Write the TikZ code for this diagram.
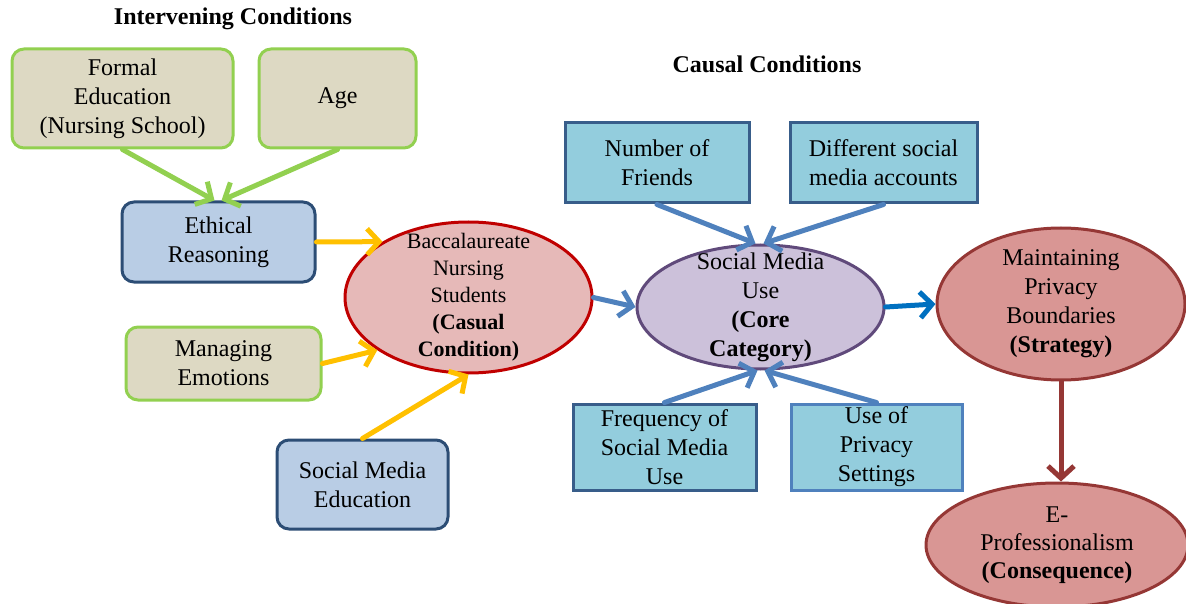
\documentclass[tikz,border=0pt]{standalone}
\usepackage{fontspec}
\setmainfont{Liberation Serif}
\usepackage{tikz}
\usetikzlibrary{positioning,shapes,arrows.meta,shapes.geometric}

\definecolor{GreenLine}{HTML}{92D050}
\definecolor{Beige}{HTML}{DDD9C3}
\definecolor{DarkBlue}{HTML}{2C4D75}
\definecolor{PaleBlue}{HTML}{B9CDE5}
\definecolor{SteelBlue}{HTML}{385D8A}
\definecolor{MidBlue}{HTML}{4F81BD}
\definecolor{Aqua}{HTML}{93CDDD}
\definecolor{Rose}{HTML}{E6B9B8}
\definecolor{DeepRed}{HTML}{C00000}
\definecolor{Lilac}{HTML}{CCC1DA}
\definecolor{Plum}{HTML}{604A7B}
\definecolor{Salmon}{HTML}{D99694}
\definecolor{Brick}{HTML}{953735}
\definecolor{Amber}{HTML}{FFC000}
\definecolor{Ocean}{HTML}{0070C0}

\begin{document}
\begin{tikzpicture}[x=1pt, y=-1pt,
        every node/.style={font=\fontsize{24}{29}\selectfont, align=center, inner sep=0pt},
        title/.style={font=\fontsize{24}{29}\selectfont\bfseries},
        condbox/.style={draw=GreenLine, fill=Beige, line width=3pt, rounded corners=12pt},
        edbox/.style={draw=DarkBlue, fill=PaleBlue, line width=3pt, rounded corners=12pt},
        usebox/.style={draw=SteelBlue, fill=Aqua, line width=3pt},
        oval/.style={ellipse, line width=3pt, inner xsep=0pt, inner ysep=-40pt},
        link/.style={line width=5pt, line cap=round, -{Straight Barb[length=12pt,width=26pt]}}
    ]
        \useasboundingbox (0,0) rectangle (1186,604);

        % headings
        \node[title] (intv) at (233,19) {Intervening Conditions};
        \node[title] (causal) at (767,64) {Causal Conditions};

        % intervening conditions
        \node[condbox, minimum width=221, minimum height=99] (formal) at (122.5,98.5) {Formal\\Education\\(Nursing School)};
        \node[condbox, minimum width=157, minimum height=99] (age) at (337.5,98.5) {Age};
        \node[edbox, minimum width=193, minimum height=80] (ethical) at (218.5,242) {Ethical\\Reasoning};
        \node[condbox, minimum width=195, minimum height=73] (emotions) at (223.5,363.5) {Managing\\Emotions};
        \node[edbox, minimum width=171, minimum height=89] (smedu) at (362.5,484.5) {Social Media\\Education};

        % causal condition and core category
        \node[oval, draw=DeepRed, fill=Rose, minimum width=247, minimum height=151,
            font=\fontsize{22}{27}\selectfont] (bacc) at (468.5,297.5)
            {Baccalaureate\\Nursing\\Students\\\textbf{(Casual}\\\textbf{Condition)}};
        \node[oval, draw=Plum, fill=Lilac, minimum width=247, minimum height=124] (smuse) at (760.5,307)
            {Social Media\\Use\\\textbf{(Core}\\\textbf{Category)}};

        \node[usebox, minimum width=184, minimum height=80] (friends) at (657,163) {Number of\\Friends};
        \node[usebox, minimum width=187, minimum height=80] (accounts) at (883.5,163) {Different social\\media accounts};
        \node[usebox, minimum width=183, minimum height=86] (freq) at (664.5,447) {Frequency of\\Social Media\\Use};
        \node[usebox, draw=MidBlue, minimum width=171, minimum height=86] (privacy) at (876.5,447) {Use of\\Privacy\\Settings};

        % strategy and consequence
        \node[oval, draw=Brick, fill=Salmon, minimum width=248, minimum height=152] (boundary) at (1061,304)
            {Maintaining\\Privacy\\Boundaries\\\textbf{(Strategy)}};
        \node[oval, draw=Brick, fill=Salmon, minimum width=262, minimum height=124, font=\fontsize{24}{28}\selectfont] (eprof) at (1057,545)
            {E-\\Professionalism\\\textbf{(Consequence)}};

        % connectors
        \draw[link, GreenLine] (formal.south) -- ([xshift=-4]ethical.north);
        \draw[link, GreenLine] (age.south) -- ([xshift=3]ethical.north);
        \draw[link, Amber] (ethical.east) -- (bacc.147);
        \draw[link, Amber] (emotions.east) -- (bacc.210);
        \draw[link, Amber] (smedu.north) -- (bacc.south);
        \draw[link, MidBlue] (bacc.east) -- (smuse.west);
        \draw[link, MidBlue] (friends.south) -- ([xshift=-5]smuse.north);
        \draw[link, MidBlue] (accounts.south) -- ([xshift=3]smuse.north);
        \draw[link, MidBlue] (freq.north) -- ([xshift=-3]smuse.south);
        \draw[link, MidBlue] (privacy.north) -- ([xshift=4]smuse.south);
        \draw[link, Ocean] (smuse.east) -- (boundary.west);
        \draw[link, Brick] (boundary.south) -- (boundary.south |- eprof.north);
    \end{tikzpicture}
\end{document}
